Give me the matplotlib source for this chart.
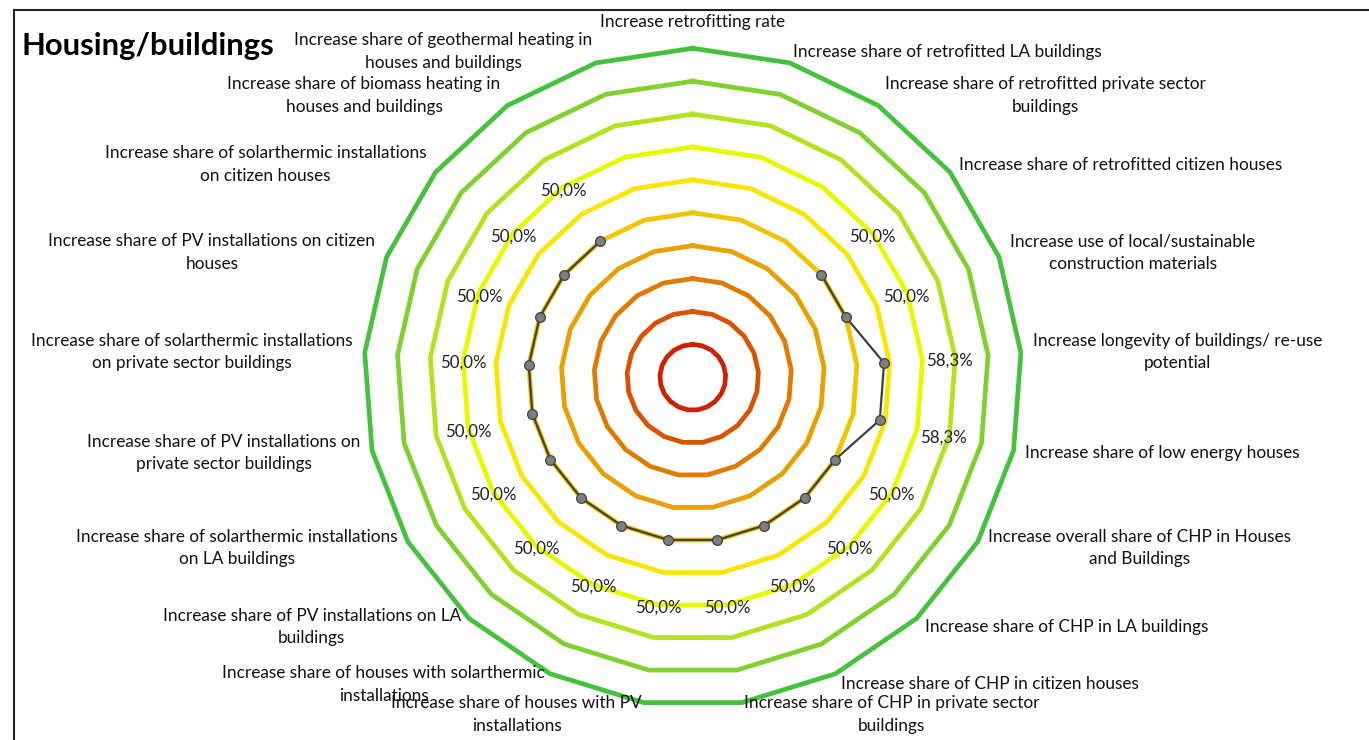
import numpy as np
import matplotlib
matplotlib.use('Agg')
import matplotlib.pyplot as plt

# categories clockwise from the top
categories = [
    "Increase retrofitting rate",
    "Increase share of retrofitted LA buildings",
    "Increase share of retrofitted private sector\nbuildings",
    "Increase share of retrofitted citizen houses",
    "Increase use of local/sustainable\nconstruction materials",
    "Increase longevity of buildings/ re-use\npotential",
    "Increase share of low energy houses",
    "Increase overall share of CHP in Houses\nand Buildings",
    "Increase share of CHP in LA buildings",
    "Increase share of CHP in citizen houses",
    "Increase share of CHP in private sector\nbuildings",
    "Increase share of houses with PV\ninstallations",
    "Increase share of houses with solarthermic\ninstallations",
    "Increase share of PV installations on LA\nbuildings",
    "Increase share of solarthermic installations\non LA buildings",
    "Increase share of PV installations on\nprivate sector buildings",
    "Increase share of solarthermic installations\non private sector buildings",
    "Increase share of PV installations on citizen\nhouses",
    "Increase share of solarthermic installations\non citizen houses",
    "Increase share of biomass heating in\nhouses and buildings",
    "Increase share of geothermal heating in\nhouses and buildings",
]

# score per category (blank cells = nan)
scores = [np.nan, np.nan, np.nan, 0.5, 0.5, 0.583, 0.583, 0.5, 0.5, 0.5, 0.5,
          0.5, 0.5, 0.5, 0.5, 0.5, 0.5, 0.5, 0.5, 0.5, np.nan]

# background rings (10% .. 100%)
ring_levels = [0.1, 0.2, 0.3, 0.4, 0.5, 0.6, 0.7, 0.8, 0.9, 1.0]
ring_colors = ['#CC2200', '#D85200', '#E07A00', '#E8A000', '#F0C400',
               '#F8E600', '#E8F800', '#B4E21E', '#80D030', '#44C23C']

plt.rcParams['font.family'] = ['Lato', 'DejaVu Sans']

n = len(categories)
theta = np.arange(n) * 2 * np.pi / n
sin_t = np.sin(theta)
cos_t = np.cos(theta)

fig = plt.figure(figsize=(13.69, 7.40), dpi=100)
ax = fig.add_axes([0, 0, 1, 1])
ax.set_xlim(-692.8 / 329, (1369 - 692.8) / 329)
ax.set_ylim(-(740 - 377.3) / 329, 377.3 / 329)
ax.axis('off')

# rings
for lvl, col in zip(ring_levels, ring_colors):
    r = np.full(n + 1, lvl)
    xs = r * np.append(sin_t, sin_t[0])
    ys = r * np.append(cos_t, cos_t[0])
    ax.plot(xs, ys, color=col, lw=3.4, solid_joinstyle='miter', zorder=2)

# data series
vals = np.array(scores)
ax.plot(vals * sin_t, vals * cos_t, color='#404040', lw=1.6, zorder=4,
        marker='o', markersize=7, markerfacecolor='#7F7F7F',
        markeredgecolor='#404040', markeredgewidth=0.9)

# data labels
for i, v in enumerate(scores):
    if np.isnan(v):
        continue
    ax.annotate(f"{v * 100:.1f}%".replace('.', ','), xy=(v * sin_t[i], v * cos_t[i]),
                xytext=(47 * sin_t[i], 47 * cos_t[i] - 2), textcoords='offset points',
                ha='center', va='center', fontsize=12.2, color='#222222', zorder=5)

# category labels
for i, lab in enumerate(categories):
    s, c = sin_t[i], cos_t[i]
    if abs(s) < 0.1:
        ha = 'center'
        va = 'bottom' if c > 0 else 'top'
        d = 13
    else:
        ha = 'left' if s > 0 else 'right'
        va = 'center'
        d = 8.6
    ax.annotate(lab, xy=(s, c), xytext=(d * s, d * c), textcoords='offset points',
                ha=ha, va=va, multialignment='center', fontsize=12.4,
                color='#111111', linespacing=1.5)

# title
fig.text(22 / 1369, 1 - 46 / 740, "Housing/buildings", fontsize=22.3, fontweight='bold',
         ha='left', va='center')

# chart area border (left and top edges visible)
fig.add_artist(plt.Line2D([14 / 1369, 14 / 1369], [0, 1 - 10 / 740],
                          color='#222222', lw=1.5))
fig.add_artist(plt.Line2D([14 / 1369, 1], [1 - 10 / 740, 1 - 10 / 740],
                          color='#222222', lw=1.5))

fig.savefig('out.png', dpi=100)
